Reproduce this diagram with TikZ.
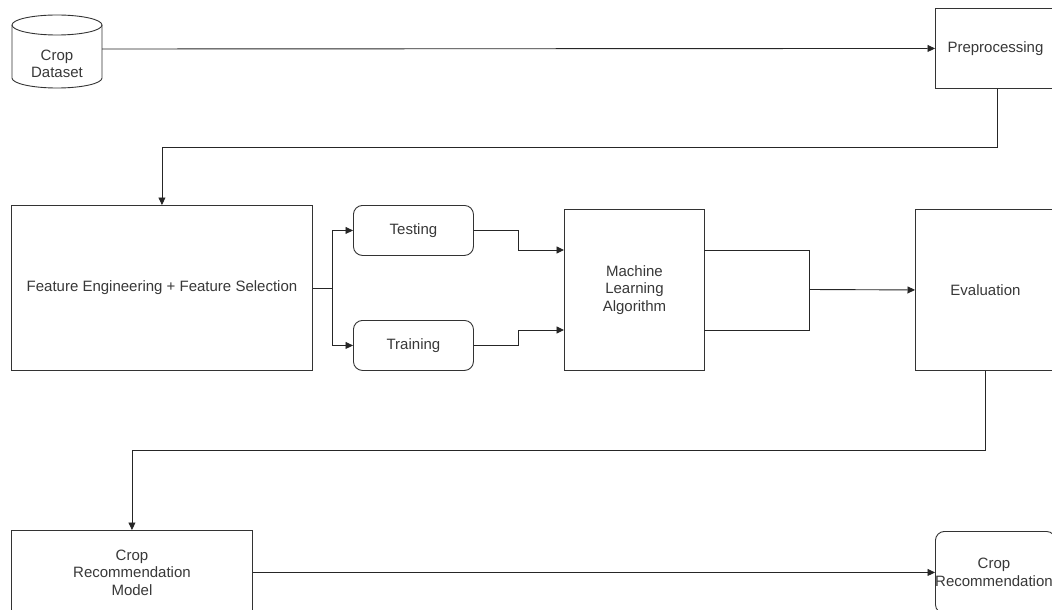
\documentclass[tikz,border=0pt]{standalone}
\usepackage{fontspec}
\setmainfont{Liberation Sans}
\usetikzlibrary{arrows.meta}
\begin{document}
\begin{tikzpicture}[x=1pt,y=-1pt,
  txt/.style={font=\fontsize{15}{17.5}\selectfont, text=black!78, align=center, inner sep=0pt},
  box/.style={txt, draw=black!80, line width=0.9pt, fill=white, anchor=north west},
  rbox/.style={box, rounded corners=9pt},
  link/.style={draw=black!85, line width=0.9pt},
  arr/.style={link, -{Triangle[length=7.5pt,width=7pt]}}]
\useasboundingbox (0,0) rectangle (1052,610);
\clip (0,0) rectangle (1052,610);

% data store drawn as a cylinder
\node[inner sep=0pt, minimum width=90pt, minimum height=78pt] (data) at (57,49) {};
\draw[draw=black!80, line width=0.9pt, fill=white]
  (12,25) -- (12,78) arc[start angle=180, end angle=0, x radius=45, y radius=10]
  -- (102,25) arc[start angle=0, end angle=-180, x radius=45, y radius=10] -- cycle;
\draw[draw=black!80, line width=0.9pt] (12,25) arc[start angle=180, end angle=0, x radius=45, y radius=10];
\node[txt] (datatext) at (57,64) {Crop\\Dataset};

% process boxes
\node[box, minimum width=124pt, minimum height=80pt] (pre) at (935,8) {\hspace*{-4pt}Preprocessing};
\node[box, minimum width=301pt, minimum height=165pt] (fe) at (11,205) {Feature Engineering + Feature Selection};
\node[rbox, minimum width=120pt, minimum height=50pt] (test) at (353,205) {Testing};
\node[rbox, minimum width=120pt, minimum height=50pt] (train) at (353,320) {Training};
\node[box, minimum width=140pt, minimum height=161pt] (ml) at (564,209) {Machine\\Learning\\Algorithm};
\node[box, minimum width=140pt, minimum height=161pt] (eval) at (915,209) {Evaluation};
\node[box, minimum width=241pt, minimum height=84pt] (model) at (11,530) {Crop\\Recommendation\\Model};
\node[rbox, minimum width=120pt, minimum height=82pt] (rec) at (935,531) {\hspace*{-3pt}Crop\\\hspace*{-3pt}Recommendation};

% connector end points on the learning block
\coordinate (mlin1) at (564,250);
\coordinate (mlin2) at (564,330);
\coordinate (mlout1) at (704,250);
\coordinate (mlout2) at (704,330);
\coordinate (join) at (809,289.5);

% connectors
\draw[arr] (data.east) -- (pre.west);
\draw[arr] (pre.south) -- ++(0,59) -| (fe.north);
\draw[arr] (fe.east) -- ++(20,0) |- (test.west);
\draw[arr] (fe.east) -- ++(20,0) |- (train.west);
\draw[arr] (test.east) -- ++(45,0) |- (mlin1);
\draw[arr] (train.east) -- ++(45,0) |- (mlin2);
\draw[link] (mlout1) -| (join) |- (mlout2);
\draw[arr] (join) -- (eval.west);
\draw[arr] (eval.south) -- ++(0,80) -| (model.north);
\draw[arr] (model.east) -- (rec.west);
\end{tikzpicture}
\end{document}
